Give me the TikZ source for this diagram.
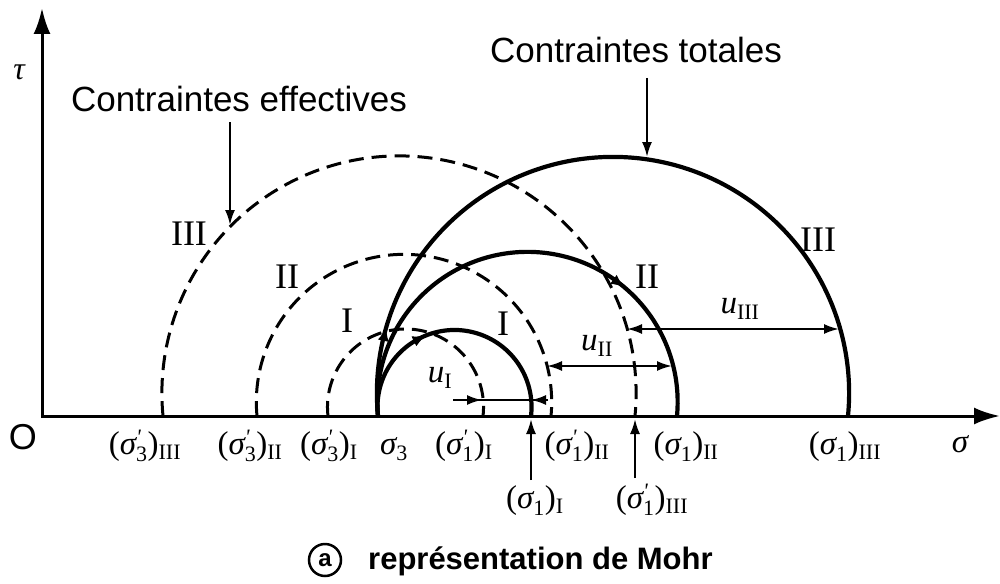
\documentclass[tikz,border=0pt]{standalone}
\usepackage{fontspec}
\setmainfont{Liberation Sans}
\newfontfamily\romfont{Liberation Serif}
\usetikzlibrary{arrows.meta}
\newcommand\sbx[1]{\mbox{\romfont\fontsize{22}{23}\selectfont #1}}
\newcommand\sgm{\mbox{\romfont\itshape σ}}
\newcommand\lab[3]{\mbox{\romfont (}$\sgm^{#2}_{\sbx{#1}}$\mbox{\romfont )}$_{\sbx{#3}}$}
\newcommand\pr{\sbx{\itshape '}}
\newcommand\mohrarc[4]{%
  \pgfmathsetmacro\mc{(#1+#2)/2}%
  \pgfmathsetmacro\mh{(#2-#1)/2}%
  \pgfmathsetmacro\mr{\mh*sqrt(1+(#3/\mh)^2)}%
  \pgfmathsetmacro\ma{asin(#3/\mr)}%
  \pgfmathsetmacro\mst{180+\ma}%
  \pgfmathsetmacro\men{-\ma}%
  \draw[#4] plot[domain=\mst:\men,samples=160,variable=\t] ({\mc+\mr*cos(\t)},{416-#3-\mr*sin(\t)});}
\newcommand\tipon[4]{% a, b, k, angle
  \pgfmathsetmacro\mc{(#1+#2)/2}%
  \pgfmathsetmacro\mh{(#2-#1)/2}%
  \pgfmathsetmacro\mr{\mh*sqrt(1+(#3/\mh)^2)}%
  \draw[circtip] ({\mc+\mr*cos(#4+8)},{416-#3-\mr*sin(#4+8)}) -- ({\mc+\mr*cos(#4)},{416-#3-\mr*sin(#4)});}
\begin{document}
\begin{tikzpicture}[x=1pt,y=-1pt,
  axis/.style={line width=3pt},
  totc/.style={line width=4.2pt},
  effc/.style={line width=3pt, dash pattern=on 15pt off 8pt},
  arr/.style={line width=2pt},
  pointer/.style={line width=2.2pt,-{Latex[length=15pt,width=10pt]}},
  dimarr/.style={line width=2.2pt,{Latex[length=15pt,width=10pt]}-{Latex[length=15pt,width=10pt]}},
  circtip/.style={line width=1pt,-{Latex[length=13pt,width=11pt]}},
  lbl/.style={font=\fontsize{35}{40}\selectfont, inner sep=0pt},
  rom/.style={font=\romfont\fontsize{36}{40}\selectfont, inner sep=0pt},
  mlab/.style={font=\romfont\fontsize{33}{36}\selectfont, inner sep=0pt, anchor=base},
]
\useasboundingbox (0,0) rectangle (1000,583);
% axes
\coordinate (O) at (42,416);
\coordinate (xend) at (1000,416);
\coordinate (yend) at (42,8);
\draw[axis,{Latex[length=26pt,width=17pt]}-{Latex[length=26pt,width=17pt]}] (yend) -- (O) -- (xend);
% effective stress circles (dashed)
\mohrarc{163}{635}{23}{effc}
\mohrarc{257}{551}{14}{effc}
\mohrarc{328}{483}{9}{effc}
% total stress circles (solid)
\mohrarc{378}{848}{23}{totc}
\mohrarc{378}{677}{14}{totc}
\mohrarc{378}{531}{9}{totc}
% small tips on circles
\tipon{378}{848}{23}{164}
\tipon{378}{531}{9}{112}
\tipon{378}{677}{14}{50}
% u arrows
\coordinate (uIa) at (453,400); \coordinate (uIb) at (548,400);
\coordinate (uIl) at (482,400); \coordinate (uIr) at (531,400);
\draw[arr] (uIa) -- (uIb);
\draw[pointer] (uIa) -- (uIl);
\draw[pointer] (uIb) -- (uIr);
\coordinate (uIIa) at (547,366); \coordinate (uIIb) at (672,366);
\draw[dimarr] (uIIa) -- (uIIb);
\coordinate (uIIIa) at (627,329); \coordinate (uIIIb) at (839,329);
\draw[dimarr] (uIIIa) -- (uIIIb);
\node[mlab, anchor=center] (uI) at (440,378) {$\mbox{\itshape u}_{\sbx{I}}$};
\node[mlab, anchor=center] (uII) at (597,346) {$\mbox{\itshape u}_{\sbx{II}}$};
\node[mlab, anchor=center] (uIII) at (740,309) {$\mbox{\itshape u}_{\sbx{III}}$};
% titles
\node[lbl, anchor=base] (eff) at (239,112) {Contraintes effectives};
\node[lbl, anchor=base] (tot) at (636,63) {Contraintes totales};
\coordinate (effa) at (230,122); \coordinate (effb) at (230,225);
\draw[pointer] (effa) -- (effb);
\coordinate (tota) at (647,78); \coordinate (totb) at (647,157);
\draw[pointer] (tota) -- (totb);
% roman labels
\node[rom] (rIIIl) at (189,234) {III};
\node[rom] (rIIl) at (287,277) {II};
\node[rom] (rIl) at (347,321) {I};
\node[rom] (rIr) at (503,324) {I};
\node[rom] (rIIr) at (647,277) {II};
\node[rom] (rIIIr) at (818,240) {III};
% axis labels
\node[lbl, font=\fontsize{36}{40}\selectfont] (Olab) at (23,437) {O};
\node[mlab, anchor=center, font=\romfont\itshape\fontsize{32}{34}\selectfont] (tau) at (19,72) {τ};
\node[mlab] (s3III) at (145,454) {\lab{3}{\pr}{III}};
\node[mlab] (s3II) at (250,454) {\lab{3}{\pr}{II}};
\node[mlab] (s3I) at (329,454) {\lab{3}{\pr}{I}};
\node[mlab] (s3) at (394,454) {$\sgm_{\sbx{3}}$};
\node[mlab] (s1pI) at (464,454) {\lab{1}{\pr}{I}};
\node[mlab] (s1pII) at (577,454) {\lab{1}{\pr}{II}};
\node[mlab] (s1II) at (686,454) {\lab{1}{}{II}};
\node[mlab] (s1III) at (845,454) {\lab{1}{}{III}};
\node[mlab] (sig) at (960,452) {\itshape σ};
\node[mlab] (s1I) at (535,508) {\lab{1}{}{I}};
\node[mlab] (s1pIII) at (652,508) {\lab{1}{\pr}{III}};
\coordinate (upIa) at (531,480); \coordinate (upIb) at (531,419);
\draw[pointer] (upIa) -- (upIb);
\coordinate (upIIIa) at (635,478); \coordinate (upIIIb) at (635,419);
\draw[pointer] (upIIIa) -- (upIIIb);
% caption
\node[inner sep=0pt, font=\bfseries\fontsize{24}{26}\selectfont] (ca) at (325,560) {a};
\draw[line width=2.5pt] (ca.center) circle[radius=16];
\node[anchor=base west, inner sep=0pt, font=\bfseries\fontsize{31}{34}\selectfont] (cap) at (368,569) {représentation de Mohr};
\end{tikzpicture}
\end{document}
